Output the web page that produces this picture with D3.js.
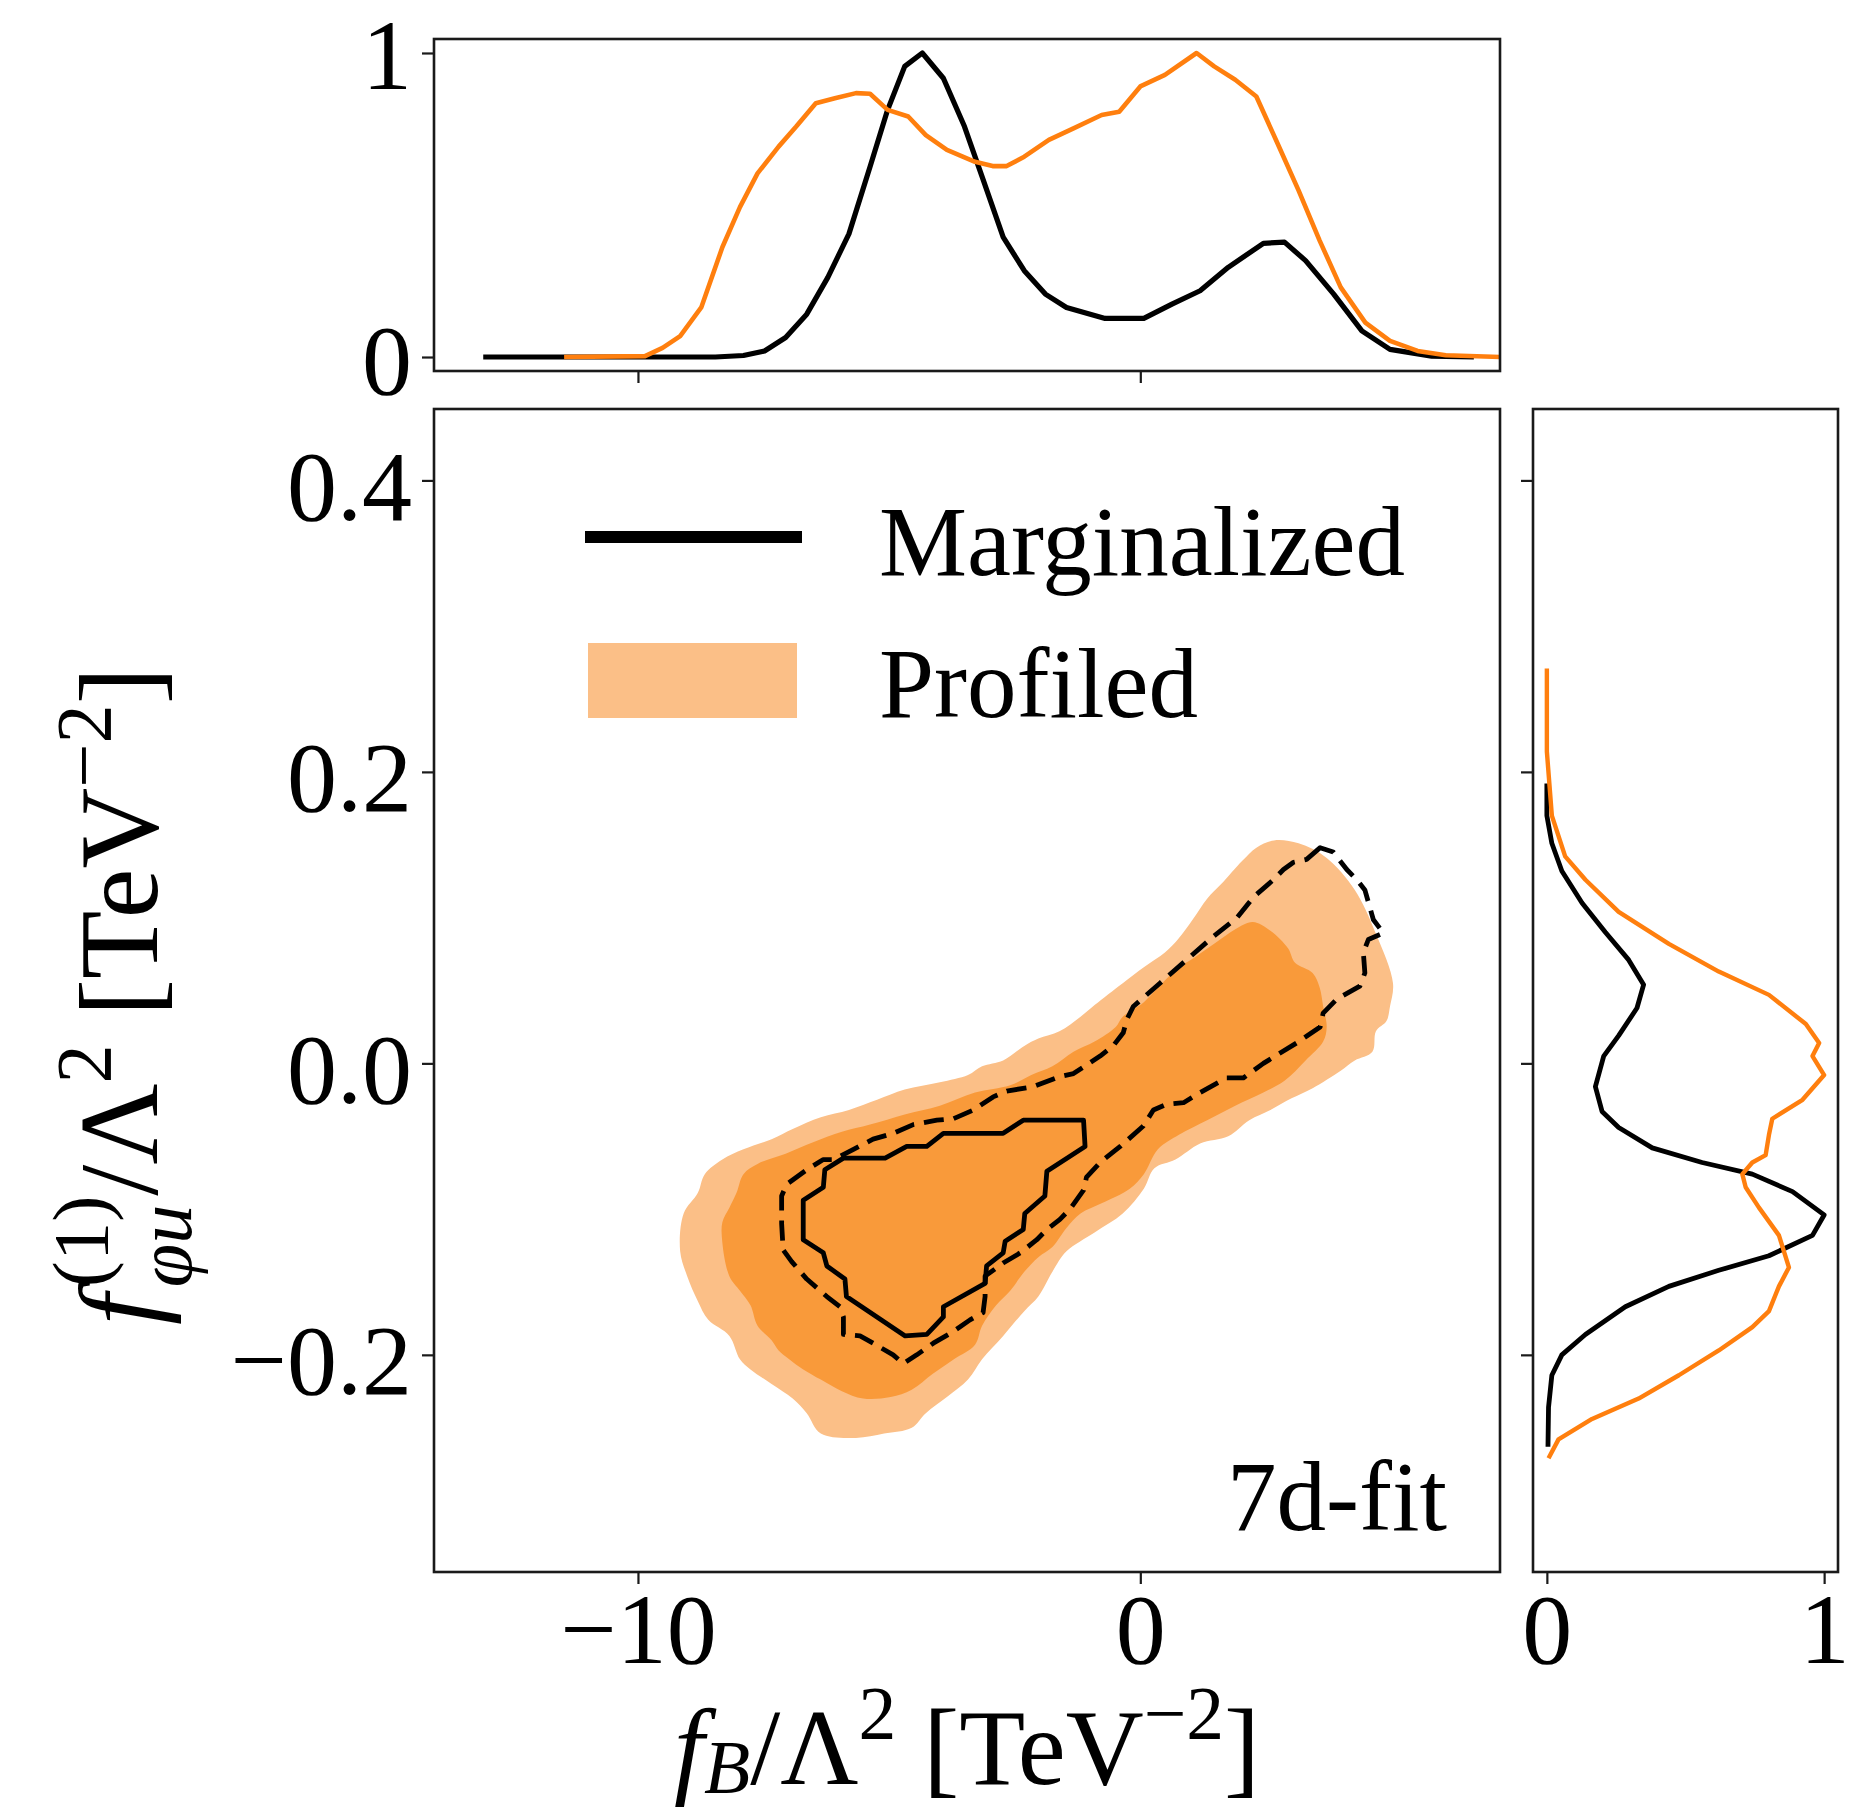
<!DOCTYPE html>
<html><head><meta charset="utf-8">
<script src="https://cdn.jsdelivr.net/npm/d3@7"></script>
<style>
body{margin:0;background:#fff;}
text{font-family:"Liberation Serif","Times New Roman",serif;fill:#000;}
</style>
</head><body>
<svg id="chart" width="1849" height="1809"></svg>
<script>
// ---------------- DATA ----------------
const xDomain = [-14.06, 7.16];
const yDomain = [-0.349, 0.449];
const densTopDomain = [-0.046, 1.046];
const densRightDomain = [-0.05, 1.05];

const xTicks = [-10, 0];
const xTickLabels = ["\u221210", "0"];
const yTicks = [0.4, 0.2, 0.0, -0.2];
const yTickLabels = ["0.4", "0.2", "0.0", "\u22120.2"];
const densTicks = [0, 1];
const densTickLabels = ["0", "1"];

const seriesNames = ["Marginalized", "Profiled"];
const panelNote = "7d-fit";

// top marginal: [f_B, normalised density]
const topMarginalized = [[-13.08,0],[-11.5,0],[-10,0],[-8.46,0],[-7.9,0.005],[-7.48,0.02],[-7.06,0.064],[-6.64,0.141],[-6.22,0.262],[-5.80,0.405],[-5.38,0.626],[-5.03,0.813],[-4.69,0.956],[-4.34,1.0],[-3.92,0.917],[-3.50,0.758],[-3.15,0.593],[-2.73,0.394],[-2.31,0.284],[-1.89,0.207],[-1.47,0.163],[-0.70,0.127],[0.07,0.127],[0.63,0.174],[1.19,0.218],[1.75,0.295],[2.45,0.374],[2.87,0.378],[3.29,0.317],[3.85,0.207],[4.41,0.086],[4.97,0.025],[5.80,0.003],[6.64,0]];
const topProfiled = [[-11.47,0],[-9.86,0.003],[-9.51,0.03],[-9.16,0.069],[-8.74,0.163],[-8.32,0.361],[-7.97,0.493],[-7.62,0.604],[-7.20,0.692],[-6.85,0.758],[-6.46,0.835],[-6.08,0.851],[-5.66,0.868],[-5.38,0.866],[-5.03,0.813],[-4.62,0.791],[-4.27,0.730],[-3.85,0.681],[-3.29,0.642],[-2.94,0.628],[-2.66,0.628],[-2.31,0.659],[-1.82,0.714],[-1.33,0.752],[-0.77,0.796],[-0.42,0.807],[0.0,0.890],[0.49,0.928],[1.12,1.0],[1.47,0.956],[1.89,0.912],[2.31,0.857],[2.73,0.703],[3.15,0.548],[3.57,0.383],[3.99,0.229],[4.48,0.113],[4.97,0.053],[5.52,0.020],[6.08,0.006],[7.16,0]];

// right marginal: [normalised density, f_phiu]
const rightMarginalized = [[0,0.192],[0.0,0.170],[0.018,0.151],[0.054,0.132],[0.127,0.110],[0.211,0.090],[0.295,0.071],[0.349,0.054],[0.325,0.038],[0.259,0.019],[0.205,0.005],[0.175,-0.016],[0.199,-0.033],[0.259,-0.044],[0.380,-0.058],[0.560,-0.068],[0.741,-0.076],[0.886,-0.088],[1.0,-0.104],[0.958,-0.118],[0.801,-0.132],[0.620,-0.142],[0.440,-0.153],[0.283,-0.167],[0.139,-0.186],[0.054,-0.200],[0.018,-0.214],[0.006,-0.236],[0.004,-0.263]];
const rightProfiled = [[0,0.271],[0,0.214],[0.018,0.170],[0.066,0.142],[0.139,0.126],[0.259,0.104],[0.440,0.082],[0.620,0.063],[0.801,0.047],[0.934,0.027],[0.982,0.014],[0.958,0.005],[1.0,-0.008],[0.922,-0.025],[0.813,-0.038],[0.801,-0.049],[0.789,-0.063],[0.741,-0.068],[0.705,-0.076],[0.717,-0.085],[0.765,-0.099],[0.837,-0.118],[0.873,-0.140],[0.837,-0.153],[0.801,-0.170],[0.741,-0.181],[0.620,-0.197],[0.476,-0.214],[0.331,-0.230],[0.163,-0.244],[0.042,-0.258],[0.006,-0.271]];

// profiled regions (outer = light, inner = dark): [f_B, f_phiu]
const profiledOuter = [[2.66,0.153],[3.15,0.151],[3.71,0.141],[4.27,0.119],[4.69,0.089],[5.03,0.055],[4.97,0.039],[4.90,0.029],[4.69,0.022],[4.62,0.008],[4.27,0.002],[3.99,-0.005],[3.43,-0.017],[3.01,-0.024],[2.59,-0.032],[2.17,-0.039],[1.75,-0.050],[1.19,-0.055],[0.70,-0.066],[0.28,-0.072],[0.07,-0.086],[-0.35,-0.103],[-0.91,-0.116],[-1.47,-0.129],[-1.75,-0.143],[-2.03,-0.160],[-2.31,-0.170],[-2.73,-0.187],[-3.15,-0.203],[-3.43,-0.217],[-3.85,-0.229],[-4.27,-0.240],[-4.55,-0.250],[-5.10,-0.254],[-5.66,-0.257],[-6.36,-0.254],[-6.64,-0.240],[-6.92,-0.230],[-7.34,-0.220],[-7.76,-0.210],[-7.97,-0.203],[-8.18,-0.187],[-8.60,-0.176],[-8.81,-0.163],[-9.02,-0.146],[-9.16,-0.129],[-9.09,-0.103],[-8.81,-0.089],[-8.67,-0.076],[-8.32,-0.066],[-7.90,-0.059],[-7.34,-0.052],[-6.92,-0.045],[-6.36,-0.037],[-5.80,-0.032],[-5.24,-0.025],[-4.69,-0.018],[-3.99,-0.013],[-3.43,-0.008],[-3.15,-0.002],[-2.73,0.002],[-2.31,0.012],[-2.03,0.017],[-1.61,0.022],[-1.19,0.032],[-0.91,0.040],[-0.35,0.055],[0.07,0.066],[0.49,0.076],[0.77,0.086],[1.05,0.099],[1.33,0.113],[1.61,0.123],[2.03,0.139],[2.31,0.148]];
const profiledInner = [[2.24,0.097],[2.59,0.091],[2.94,0.079],[3.08,0.069],[3.43,0.062],[3.57,0.052],[3.64,0.039],[3.71,0.025],[3.64,0.015],[3.29,0.002],[2.87,-0.012],[2.45,-0.020],[1.89,-0.029],[1.33,-0.039],[0.77,-0.049],[0.35,-0.059],[0.07,-0.076],[-0.21,-0.086],[-0.77,-0.096],[-1.19,-0.103],[-1.47,-0.113],[-1.75,-0.126],[-2.03,-0.133],[-2.31,-0.143],[-2.59,-0.156],[-2.87,-0.166],[-3.15,-0.180],[-3.29,-0.193],[-3.71,-0.203],[-4.13,-0.213],[-4.55,-0.224],[-4.97,-0.229],[-5.52,-0.230],[-5.94,-0.225],[-6.36,-0.217],[-6.71,-0.210],[-6.99,-0.203],[-7.20,-0.197],[-7.34,-0.190],[-7.62,-0.180],[-7.76,-0.166],[-7.97,-0.156],[-8.18,-0.146],[-8.32,-0.123],[-8.32,-0.109],[-8.18,-0.099],[-8.04,-0.089],[-7.90,-0.076],[-7.62,-0.069],[-7.06,-0.062],[-6.50,-0.054],[-5.94,-0.047],[-5.38,-0.042],[-4.69,-0.035],[-3.99,-0.029],[-3.29,-0.020],[-2.59,-0.015],[-2.17,-0.008],[-1.75,-0.002],[-1.33,0.008],[-0.91,0.015],[-0.49,0.025],[-0.35,0.032],[0.07,0.042],[0.35,0.052],[0.77,0.066],[1.05,0.072],[1.47,0.082],[1.89,0.092]];

// marginalized contours: outer (dashed) and inner (solid)
const marginalizedOuter = [[3.58,0.148],[3.31,0.140],[3.05,0.138],[2.85,0.133],[2.65,0.126],[2.25,0.114],[1.92,0.0997],[1.45,0.087],[0.92,0.071],[0.39,0.055],[-0.14,0.039],[-0.27,0.030],[-0.34,0.021],[-0.54,0.012],[-0.80,0.005],[-1.33,-0.007],[-1.60,-0.009],[-2.13,-0.016],[-2.66,-0.019],[-2.93,-0.023],[-3.32,-0.032],[-3.72,-0.038],[-4.05,-0.039],[-4.52,-0.042],[-4.92,-0.048],[-5.32,-0.052],[-5.71,-0.059],[-6.11,-0.066],[-6.31,-0.066],[-6.64,-0.073],[-7.04,-0.083],[-7.14,-0.091],[-7.14,-0.110],[-7.11,-0.128],[-6.94,-0.136],[-6.64,-0.148],[-6.24,-0.160],[-5.98,-0.167],[-5.91,-0.174],[-5.91,-0.186],[-5.58,-0.187],[-5.32,-0.192],[-4.92,-0.200],[-4.72,-0.206],[-4.45,-0.200],[-4.12,-0.192],[-3.72,-0.184],[-3.39,-0.176],[-3.13,-0.171],[-3.09,-0.160],[-3.09,-0.146],[-2.73,-0.137],[-2.39,-0.130],[-2.06,-0.121],[-1.86,-0.114],[-1.60,-0.107],[-1.40,-0.100],[-1.13,-0.087],[-1.07,-0.078],[-0.80,-0.068],[-0.40,-0.057],[0.06,-0.043],[0.26,-0.032],[0.53,-0.028],[0.86,-0.027],[1.19,-0.020],[1.72,-0.010],[2.05,-0.010],[2.45,0.000],[3.11,0.014],[3.58,0.025],[3.64,0.0345],[3.91,0.044],[4.37,0.053],[4.47,0.062],[4.44,0.076],[4.54,0.085],[4.84,0.0894],[4.64,0.0985],[4.47,0.119],[4.31,0.126],[4.11,0.133],[3.84,0.145]];
const marginalizedInner = [[-2.33,-0.039],[-1.13,-0.039],[-1.10,-0.057],[-1.86,-0.074],[-1.90,-0.091],[-2.30,-0.103],[-2.33,-0.114],[-2.69,-0.122],[-2.73,-0.130],[-3.06,-0.139],[-3.09,-0.151],[-3.92,-0.167],[-3.92,-0.174],[-4.25,-0.186],[-4.68,-0.187],[-5.85,-0.160],[-5.88,-0.148],[-6.24,-0.139],[-6.31,-0.130],[-6.71,-0.121],[-6.71,-0.094],[-6.31,-0.085],[-6.28,-0.073],[-5.91,-0.065],[-5.08,-0.065],[-4.65,-0.057],[-4.25,-0.057],[-3.92,-0.048],[-2.73,-0.048]];

// ---------------- STYLE / LAYOUT ----------------
const C_LINE_ORANGE = "#ff7f0e";
const C_LIGHT = "#fbbf87";
const C_DARK = "#f99a3a";
const TICK_FS = 100, LEG_FS = 99, LAB_FS = 108;

const topBox = {x0:434, x1:1500, y0:39, y1:371};
const mainBox = {x0:434, x1:1500, y0:409, y1:1572};
const rightBox = {x0:1533, x1:1838, y0:409, y1:1572};

const svg = d3.select("#chart");

const x = d3.scaleLinear().domain(xDomain).range([mainBox.x0, mainBox.x1]);
const y = d3.scaleLinear().domain(yDomain).range([mainBox.y1, mainBox.y0]);
const yTop = d3.scaleLinear().domain(densTopDomain).range([topBox.y1, topBox.y0]);
const xRight = d3.scaleLinear().domain(densRightDomain).range([rightBox.x0, rightBox.x1]);

// ---------- main panel fills and contours ----------
const smoothClosed = d3.line().x(d => x(d[0])).y(d => y(d[1])).curve(d3.curveCatmullRomClosed.alpha(0.5));
const polyClosed = d3.line().x(d => x(d[0])).y(d => y(d[1])).curve(d3.curveLinearClosed);

svg.append("path").attr("d", smoothClosed(profiledOuter)).attr("fill", C_LIGHT);
svg.append("path").attr("d", smoothClosed(profiledInner)).attr("fill", C_DARK);
svg.append("path").attr("d", polyClosed(marginalizedOuter)).attr("fill", "none")
  .attr("stroke", "#000").attr("stroke-width", 4.8).attr("stroke-dasharray", "20,10").attr("stroke-linejoin","round");
svg.append("path").attr("d", polyClosed(marginalizedInner)).attr("fill", "none")
  .attr("stroke", "#000").attr("stroke-width", 4.8).attr("stroke-linejoin","round");

// ---------- top marginal ----------
const topLine = d3.line().x(d => x(d[0])).y(d => yTop(d[1]));
svg.append("path").attr("d", topLine(topMarginalized)).attr("fill","none").attr("stroke","#000").attr("stroke-width",5.2).attr("stroke-linejoin","round");
svg.append("path").attr("d", topLine(topProfiled)).attr("fill","none").attr("stroke",C_LINE_ORANGE).attr("stroke-width",4.6).attr("stroke-linejoin","round");

// ---------- right marginal ----------
const rightLine = d3.line().x(d => xRight(d[0])).y(d => y(d[1]));
svg.append("path").attr("d", rightLine(rightMarginalized)).attr("fill","none").attr("stroke","#000").attr("stroke-width",4.8).attr("stroke-linejoin","round");
svg.append("path").attr("d", rightLine(rightProfiled)).attr("fill","none").attr("stroke",C_LINE_ORANGE).attr("stroke-width",4.4).attr("stroke-linejoin","round");

// ---------- frames ----------
[topBox, mainBox, rightBox].forEach(b => {
  svg.append("rect").attr("x", b.x0).attr("y", b.y0).attr("width", b.x1 - b.x0).attr("height", b.y1 - b.y0)
    .attr("fill","none").attr("stroke","#1a1a1a").attr("stroke-width",2.6);
});

// ---------- axes ----------
function styleAxis(g, fs) {
  g.select(".domain").remove();
  g.selectAll(".tick line").attr("stroke","#1a1a1a").attr("stroke-width",2.2);
  g.selectAll(".tick text").attr("font-size", fs).attr("font-family","Liberation Serif, serif").attr("fill","#000");
}
const gx = svg.append("g").attr("transform",`translate(0,${mainBox.y1})`)
  .call(d3.axisBottom(x).tickValues(xTicks).tickFormat((d,i)=>xTickLabels[i]).tickSize(12).tickPadding(8));
styleAxis(gx, TICK_FS);
const gy = svg.append("g").attr("transform",`translate(${mainBox.x0},0)`)
  .call(d3.axisLeft(y).tickValues(yTicks).tickFormat((d,i)=>yTickLabels[i]).tickSize(12).tickPadding(10));
styleAxis(gy, TICK_FS);
gy.selectAll(".tick text").attr("dy","0.39em");
const gtx = svg.append("g").attr("transform",`translate(0,${topBox.y1})`)
  .call(d3.axisBottom(x).tickValues(xTicks).tickFormat("").tickSize(12));
styleAxis(gtx, TICK_FS);
const gty = svg.append("g").attr("transform",`translate(${topBox.x0},0)`)
  .call(d3.axisLeft(yTop).tickValues(densTicks).tickFormat((d,i)=>densTickLabels[i]).tickSize(12).tickPadding(10));
styleAxis(gty, TICK_FS);
gty.selectAll(".tick text").attr("dy","0.36em");
const grx = svg.append("g").attr("transform",`translate(0,${rightBox.y1})`)
  .call(d3.axisBottom(xRight).tickValues(densTicks).tickFormat((d,i)=>densTickLabels[i]).tickSize(12).tickPadding(8));
styleAxis(grx, TICK_FS);
const gry = svg.append("g").attr("transform",`translate(${rightBox.x0},0)`)
  .call(d3.axisLeft(y).tickValues(yTicks).tickFormat("").tickSize(12));
styleAxis(gry, TICK_FS);

// ---------- legend ----------
const leg = svg.append("g");
leg.append("line").attr("x1",585).attr("x2",802).attr("y1",537).attr("y2",537).attr("stroke","#000").attr("stroke-width",12);
leg.append("rect").attr("x",588).attr("y",643).attr("width",209).attr("height",75).attr("fill",C_LIGHT);
leg.append("text").attr("x",879).attr("y",575).attr("font-size",LEG_FS).text(seriesNames[0]);
leg.append("text").attr("x",879).attr("y",717).attr("font-size",LEG_FS).text(seriesNames[1]);

svg.append("text").attr("x",1447).attr("y",1530).attr("text-anchor","end").attr("font-size",LEG_FS).text(panelNote);

// ---------- axis labels (math-like) ----------
const S = LAB_FS, s = 0.7*S;
{
  const t = svg.append("text").attr("x",0).attr("y",0).attr("font-size",S);
  t.append("tspan").attr("font-style","italic").text("f");
  t.append("tspan").attr("font-style","italic").attr("font-size",s).attr("dy",0.08*S).text("B");
  t.append("tspan").attr("dy",-0.08*S).text("/\u039B");
  t.append("tspan").attr("font-size",s).attr("dy",-0.42*S).text("2");
  t.append("tspan").attr("dy",0.42*S).text(" [TeV");
  t.append("tspan").attr("font-size",s).attr("dy",-0.42*S).text("\u22122");
  t.append("tspan").attr("dy",0.42*S).text("]");
  const w = t.node().getComputedTextLength();
  t.attr("transform",`translate(${(mainBox.x0+mainBox.x1)/2 - w/2},1784)`);
}
{
  const S2 = 112, s2 = 0.7*S2;
  const g = svg.append("g");
  const t = g.append("text").attr("x",0).attr("y",0).attr("font-size",S2);
  t.append("tspan").attr("font-style","italic").text("f");
  const sup = t.append("tspan").attr("font-size",s2).attr("dx",0.06*S2).attr("dy",-0.45*S2).text("(1)");
  const w1 = sup.node().getComputedTextLength();
  const sub = t.append("tspan").attr("font-style","italic").attr("font-size",s2).attr("dx",-w1).attr("dy",0.75*S2).text("\u03C6u");
  const w2 = sub.node().getComputedTextLength();
  t.append("tspan").attr("dx",Math.max(0,w1-w2)).attr("dy",-0.30*S2).text("/\u039B");
  t.append("tspan").attr("font-size",s2).attr("dy",-0.42*S2).text("2");
  t.append("tspan").attr("dy",0.42*S2).text(" [TeV");
  t.append("tspan").attr("font-size",s2).attr("dy",-0.42*S2).text("\u22122");
  t.append("tspan").attr("dy",0.42*S2).text("]");
  const bb = t.node().getBBox();
  t.attr("x", -bb.x - bb.width/2);
  g.attr("transform","translate(157,996) rotate(-90)");
}
</script>
</body></html>
